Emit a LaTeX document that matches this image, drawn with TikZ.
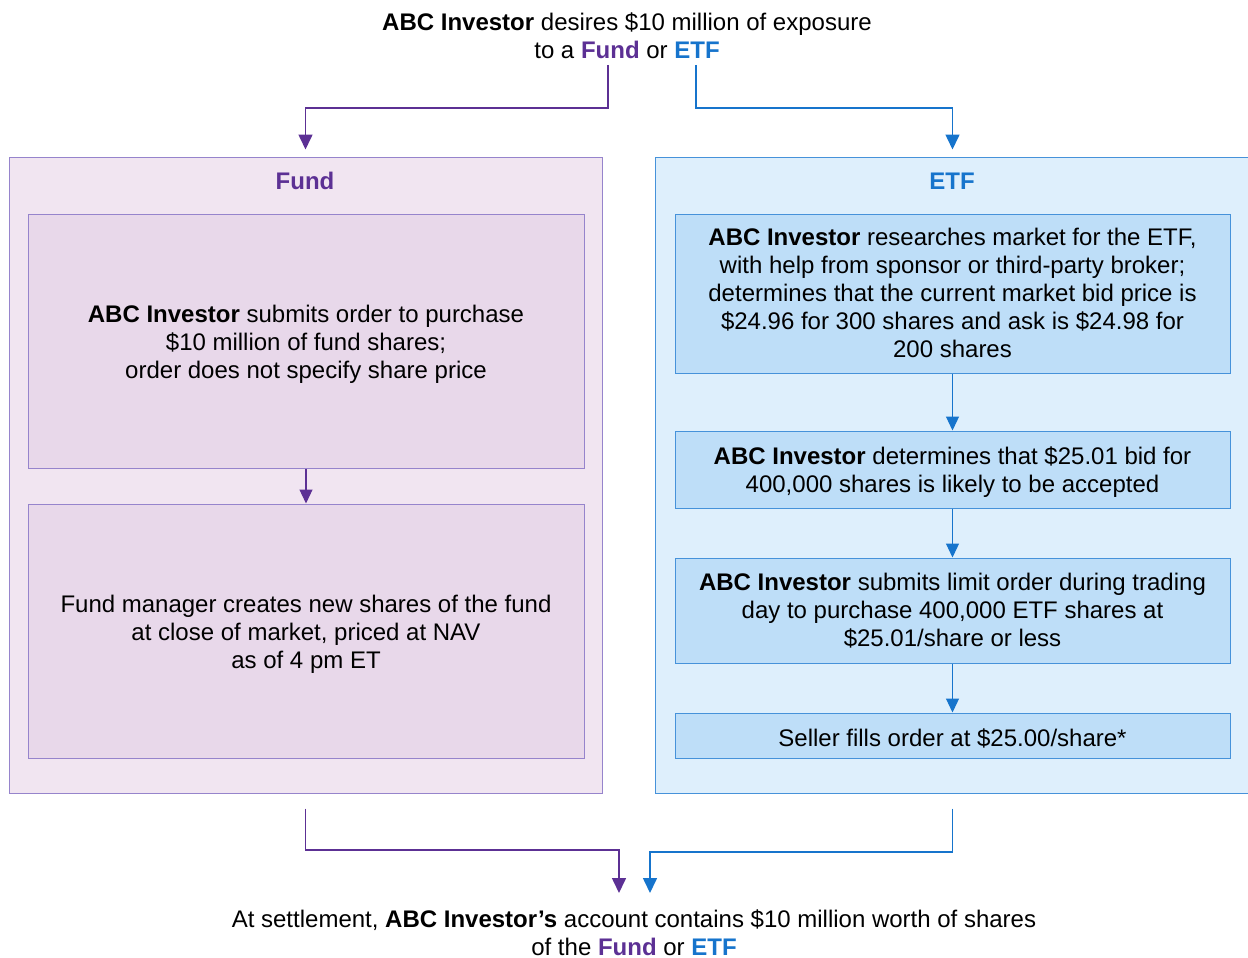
\documentclass[tikz,border=0pt]{standalone}
\usepackage{fontspec}
\setmainfont{Liberation Sans}
\usetikzlibrary{arrows.meta,calc}
\definecolor{fpurple}{RGB}{92,48,148}
\definecolor{eblue}{RGB}{22,116,204}
\definecolor{fout}{RGB}{241,229,241}
\definecolor{fin}{RGB}{232,216,234}
\definecolor{fbord}{RGB}{150,132,204}
\definecolor{eout}{RGB}{222,239,252}
\definecolor{ein}{RGB}{190,222,248}
\definecolor{ebord}{RGB}{70,146,218}
\tikzset{
  txt/.style={font=\fontsize{24}{28}\selectfont, align=center, inner sep=0pt},
  outerf/.style={draw=fbord, fill=fout, line width=1pt, minimum width=593pt, minimum height=636pt, inner sep=0pt},
  outere/.style={draw=ebord, fill=eout, line width=1pt, minimum width=595pt, minimum height=636pt, inner sep=0pt},
  finbox/.style={draw=fbord, fill=fin, line width=1pt, minimum width=556pt, inner sep=0pt},
  einbox/.style={draw=ebord, fill=ein, line width=1pt, minimum width=555pt, inner sep=0pt},
  fline/.style={draw=fpurple, line width=1.6pt, -{Triangle[length=15pt,width=14pt]}},
  eline/.style={draw=eblue, line width=1.6pt, -{Triangle[length=15pt,width=14pt]}},
  finline/.style={draw=fpurple, line width=1.2pt, -{Triangle[length=14pt,width=13pt]}},
  einline/.style={draw=eblue, line width=1.2pt, -{Triangle[length=14pt,width=13pt]}},
}
\begin{document}
\begin{tikzpicture}[x=1pt,y=-1pt]
\useasboundingbox (0,0) rectangle (1248,958);
\node[txt] (top) at (627,36) {\textbf{ABC Investor} desires \$10 million of exposure\\to a \textbf{\textcolor{fpurple}{Fund}} or \textbf{\textcolor{eblue}{ETF}}};

\node[outerf] (fund) at (305.5,475) {};
\node[outere] (etf) at (952.5,475) {};
\node[txt, font=\fontsize{24}{28}\selectfont\bfseries, text=fpurple] (fundt) at (305,181) {Fund};
\node[txt, font=\fontsize{24}{28}\selectfont\bfseries, text=eblue] (etft) at (952,181) {ETF};

\node[finbox, minimum height=254pt] (f1) at (306,341) {};
\node[txt] (f1t) at (306,344) {\textbf{ABC Investor} submits order to purchase\\\$10 million of fund shares;\\order does not specify share price};
\node[finbox, minimum height=254pt] (f2) at (306,631) {};
\node[txt] (f2t) at (306,634) {Fund manager creates new shares of the fund\\at close of market, priced at NAV\\as of 4 pm ET};

\node[einbox, minimum height=159pt] (e1) at (952.5,293.5) {};
\node[txt] (e1t) at (952.5,293) {\textbf{ABC Investor} researches market for the ETF,\\with help from sponsor or third-party broker;\\determines that the current market bid price is\\\$24.96 for 300 shares and ask is \$24.98 for\\200 shares};
\node[einbox, minimum height=77pt] (e2) at (952.5,469.5) {};
\node[txt] (e2t) at (952.5,472.5) {\textbf{ABC Investor} determines that \$25.01 bid for\\400,000 shares is likely to be accepted};
\node[einbox, minimum height=105pt] (e3) at (952.5,610.5) {};
\node[txt] (e3t) at (952.5,610.5) {\textbf{ABC Investor} submits limit order during trading\\day to purchase 400,000 ETF shares at\\\$25.01/share or less};
\node[einbox, minimum height=45pt] (e4) at (952.5,735.5) {};
\node[txt] (e4t) at (952.5,738.5) {Seller fills order at \$25.00/share*};

\node[txt] (bot) at (634,932.5) {At settlement, \textbf{ABC Investor’s} account contains \$10 million worth of shares\\of the \textbf{\textcolor{fpurple}{Fund}} or \textbf{\textcolor{eblue}{ETF}}};

\coordinate (fs) at (608,65);
\coordinate (es) at (696,65);
\coordinate (fe) at (619,893);
\coordinate (ee) at (650,893);

\draw[fline] (fs) -- (608,108) -| ([yshift=7pt]fund.north);
\draw[eline] (es) -- (696,108) -| ([yshift=7pt]etf.north);

\draw[finline] (f1) -- (f2);
\draw[einline] (e1) -- (e2);
\draw[einline] (e2) -- (e3);
\draw[einline] (e3) -- (e4);

\draw[fline] ([yshift=-15pt]fund.south) -- (305.5,850) -| (fe);
\draw[eline] ([yshift=-15pt]etf.south) -- (952.5,852) -| (ee);
\end{tikzpicture}
\end{document}
